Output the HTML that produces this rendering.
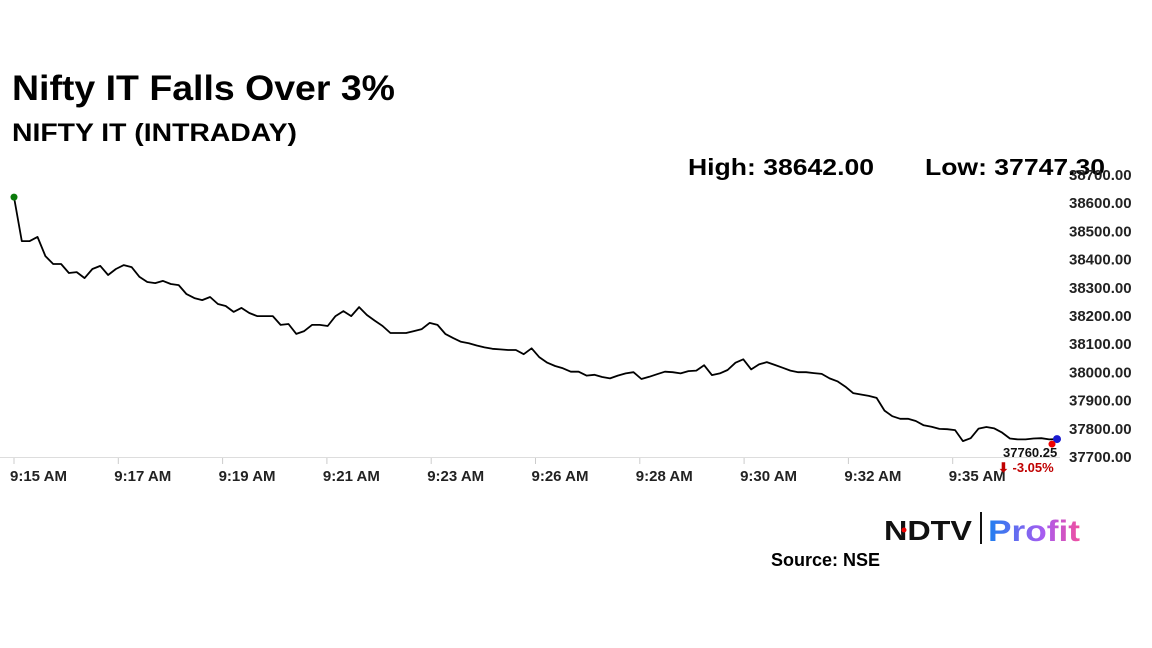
<!DOCTYPE html>
<html><head><meta charset="utf-8"><style>
body{margin:0;background:#fff;width:1152px;height:648px;overflow:hidden;font-family:"Liberation Sans",Arial,sans-serif;}
svg{position:absolute;left:0;top:0}
</style></head><body>
<svg width="1152" height="648">
<text x="12" y="100" font-size="35" font-weight="bold" fill="#000" textLength="383" lengthAdjust="spacingAndGlyphs">Nifty IT Falls Over 3%</text>
<text x="12" y="141" font-size="25" font-weight="bold" fill="#000" textLength="285" lengthAdjust="spacingAndGlyphs">NIFTY IT (INTRADAY)</text>
<text x="688" y="175" font-size="23" font-weight="bold" fill="#000" textLength="186" lengthAdjust="spacingAndGlyphs">High: 38642.00</text>
<text x="925" y="175" font-size="23" font-weight="bold" fill="#000" textLength="180" lengthAdjust="spacingAndGlyphs">Low: 37747.30</text>
<g id="axes"></g>
<g id="plot"></g>
<text x="1003" y="457" font-size="13" font-weight="bold" fill="#111">37760.25</text>
<text x="998" y="472" font-size="13" font-weight="bold" fill="#c00000">⬇ -3.05%</text>
<g>
<defs><linearGradient id="pg" x1="0" x2="1"><stop offset="0" stop-color="#1e7ff0"/><stop offset="0.6" stop-color="#a85cf0"/><stop offset="1" stop-color="#f04fa0"/></linearGradient></defs>
<text x="884" y="540" font-size="28" font-weight="900" fill="#111" textLength="88" lengthAdjust="spacingAndGlyphs">NDTV</text>
<circle cx="904" cy="530" r="2.5" fill="#e00"/>
<rect x="980" y="512" width="2" height="32" fill="#111"/>
<text x="988" y="541" font-size="30" font-weight="bold" fill="url(#pg)" textLength="92" lengthAdjust="spacingAndGlyphs">Profit</text>
</g>
<text x="771" y="566" font-size="18" font-weight="bold" fill="#000">Source: NSE</text>
</svg>
<script>
const values=[38618,38462,38462,38477,38409,38381,38381,38349,38352,38331,38363,38374,38342,38363,38377,38370,38335,38317,38313,38321,38310,38306,38274,38260,38253,38264,38239,38232,38211,38225,38207,38196,38196,38196,38165,38168,38133,38143,38165,38165,38161,38196,38214,38196,38228,38200,38180,38161,38136,38136,38136,38143,38150,38172,38165,38133,38118,
38105,38100,38092,38085,38080,38078,
38076,38076,38061,38082,38050,38031,38019,38011,37999,37999,37985,37988,37980,37975,37985,37993,37997,37973,37981,37990,37999,37997,37993,38001,38003,38022,37987,37993,38005,38031,38043,38007,38025,38033,38023,38013,38003,37997,37997,37994,37991,37975,37965,37946,37923,37918,37913,37906,37861,37841,37832,37832,37824,37809,37804,37796,37795,37792,37753,37763,37797,37803,37798,37783,37762,37759,37759,37762,37763,37759,37760];
const yTicks=[37700,37800,37900,38000,38100,38200,38300,38400,38500,38600,38700];
const xTickLabels=["9:15 AM","9:17 AM","9:19 AM","9:21 AM","9:23 AM","9:26 AM","9:28 AM","9:30 AM","9:32 AM","9:35 AM"];
const xTickIdx=[0,13.3,26.6,39.9,53.2,66.5,79.8,93.1,106.4,119.7];
const NS="http://www.w3.org/2000/svg";
const x0=14,x1=1057,yTop=174,yBot=456,vMin=37700,vMax=38700;
const xs=i=>x0+i*(x1-x0)/(values.length-1);
const ys=v=>yBot-(v-vMin)*(yBot-yTop)/(vMax-vMin);
const axes=document.getElementById('axes'),plot=document.getElementById('plot');
function mk(tag,attrs,parent){const e=document.createElementNS(NS,tag);for(const k in attrs)e.setAttribute(k,attrs[k]);parent.appendChild(e);return e;}
const base=mk('line',{x1:0,x2:1060,y1:457.5,y2:457.5,stroke:'#ddd','stroke-width':1},axes);


yTicks.forEach(v=>{
  const t=mk('text',{x:1069,y:ys(v)+6,'font-size':15,'font-weight':'bold',fill:'#222'},axes);
  t.textContent=v.toFixed(2);
  
  
});
xTickLabels.forEach((lab,k)=>{
  const x=xs(xTickIdx[k]);
  const tk=mk('line',{x1:x,x2:x,y1:458,y2:464,stroke:'#ccc'},axes);
  
  
  const t=mk('text',{x:x-4,y:481,'font-size':15,'font-weight':'bold',fill:'#222'},axes);
  t.textContent=lab;
  
  
});
const line=mk('polyline',{points:values.map((v,i)=>xs(i).toFixed(1)+','+ys(v).toFixed(1)).join(' '),fill:'none',stroke:'#000','stroke-width':1.8,'stroke-linejoin':'round'},plot);


const d1=mk('circle',{cx:xs(0),cy:ys(values[0]),r:3.5,fill:'#0a7a0a'},plot);


const n=values.length-1;
const d2=mk('circle',{cx:xs(n),cy:ys(values[n]),r:4,fill:'#1a1ad0'},plot);


const d3=mk('circle',{cx:xs(n)-5,cy:ys(values[n])+5,r:3.5,fill:'#e00'},plot);


</script>
</body></html>
